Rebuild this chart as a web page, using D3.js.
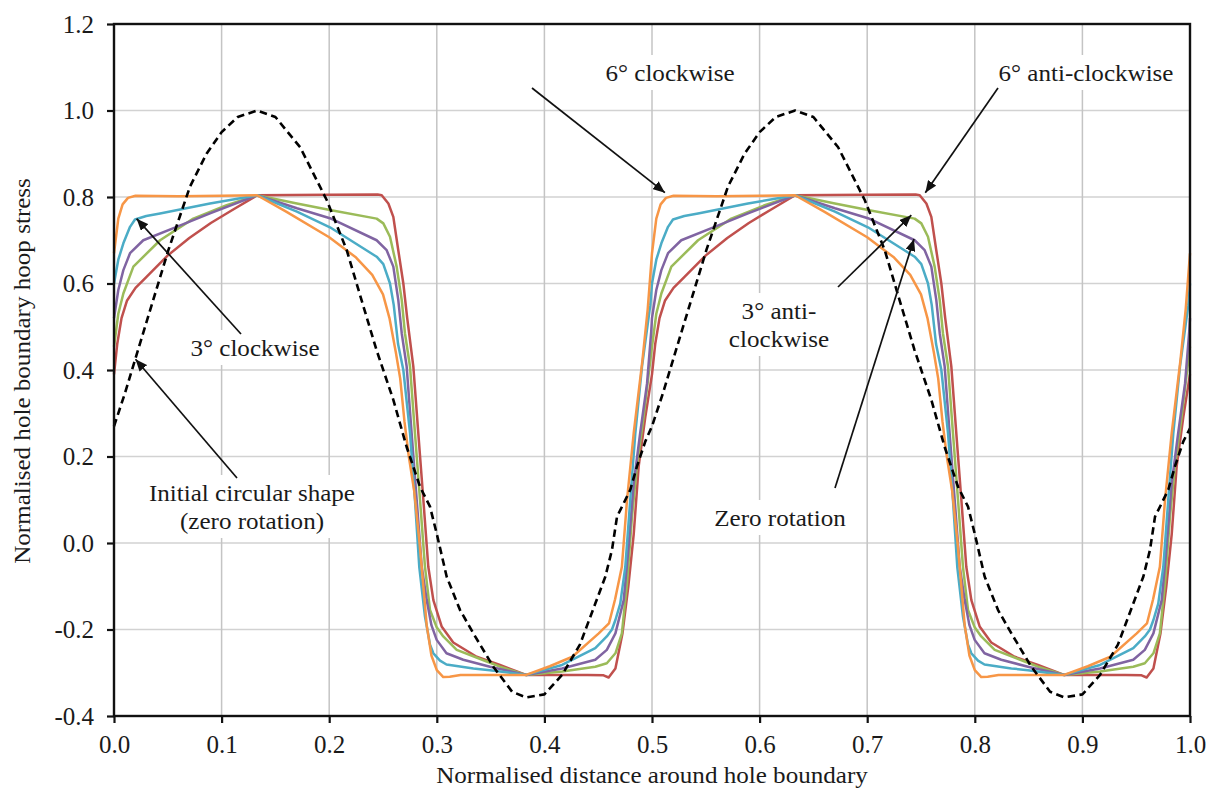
<!DOCTYPE html>
<html>
<head>
<meta charset="utf-8">
<script src="https://cdn.jsdelivr.net/npm/d3@7"></script>
<style>
  html, body { margin: 0; padding: 0; background: #ffffff; }
  svg { display: block; font-family: "Liberation Serif", "Times New Roman", serif; }
</style>
</head>
<body>
<svg id="chart" width="1214" height="794"></svg>
<script>
// ---- axis ticks ----
const xTicks = [0, 0.1, 0.2, 0.3, 0.4, 0.5, 0.6, 0.7, 0.8, 0.9, 1.0];
const xTickLabels = ["0.0", "0.1", "0.2", "0.3", "0.4", "0.5", "0.6", "0.7", "0.8", "0.9", "1.0"];
const yTicks = [-0.4, -0.2, 0, 0.2, 0.4, 0.6, 0.8, 1.0, 1.2];
const yTickLabels = ["-0.4", "-0.2", "0.0", "0.2", "0.4", "0.6", "0.8", "1.0", "1.2"];

// ---- hoop stress around the boundary: [normalised distance, normalised stress] ----
const sixDegClockwise = [
  [0,0.67],[0.004,0.75],[0.008,0.783],[0.013,0.798],[0.02,0.803],[0.06,0.802],[0.1,0.803],[0.133,0.804],
  [0.16,0.766],[0.2,0.707],[0.225,0.66],[0.24,0.62],[0.25,0.575],[0.256,0.52],[0.262,0.44],[0.266,0.38],
  [0.27,0.28],[0.274,0.2],[0.279,0.12],[0.284,0.0],[0.2875,-0.1],[0.2906,-0.19],[0.295,-0.26],[0.3,-0.294],
  [0.306,-0.31],[0.312,-0.309],[0.322,-0.305],[0.383,-0.305],[0.405,-0.285],[0.426,-0.263],[0.4505,-0.209],
  [0.46,-0.186],[0.4657,-0.13],[0.472,-0.055],[0.4768,0.1],[0.483,0.254],[0.491,0.42],[0.496,0.54],
  [0.5,0.67],[0.504,0.75],[0.508,0.783],[0.513,0.798],[0.52,0.803],[0.56,0.802],[0.6,0.803],[0.633,0.804],
  [0.66,0.766],[0.7,0.707],[0.725,0.66],[0.74,0.62],[0.75,0.575],[0.756,0.52],[0.762,0.44],[0.766,0.38],
  [0.77,0.28],[0.774,0.2],[0.779,0.12],[0.784,0.0],[0.7875,-0.1],[0.7906,-0.19],[0.795,-0.26],[0.8,-0.294],
  [0.806,-0.31],[0.812,-0.309],[0.822,-0.305],[0.883,-0.305],[0.905,-0.285],[0.926,-0.263],[0.9505,-0.209],
  [0.96,-0.186],[0.9657,-0.13],[0.972,-0.055],[0.9768,0.1],[0.983,0.254],[0.991,0.42],[0.996,0.54],[1.0,0.67]
];

const threeDegClockwise = [
  [0,0.6],[0.004,0.655],[0.0087,0.693],[0.0149,0.731],[0.0195,0.748],[0.03,0.756],[0.0428,0.762],[0.0892,0.785],[0.133,0.804],
  [0.17,0.766],[0.2007,0.73],[0.2441,0.662],[0.2503,0.645],[0.2565,0.6],[0.26,0.55],[0.264,0.46],[0.2689,0.4],
  [0.2751,0.254],[0.2797,0.1],[0.2837,-0.055],[0.289,-0.17],[0.2937,-0.235],[0.2968,-0.255],[0.303,-0.272],
  [0.309,-0.281],[0.334,-0.29],[0.3494,-0.294],[0.383,-0.305],[0.4164,-0.282],[0.4473,-0.243],[0.458,-0.216],
  [0.4628,-0.2],[0.466,-0.178],[0.4705,-0.14],[0.4752,-0.055],[0.4798,0.1],[0.4845,0.254],[0.4907,0.408],[0.4984,0.55],
  [0.5,0.6],[0.504,0.655],[0.5087,0.693],[0.5149,0.731],[0.5195,0.748],[0.53,0.756],[0.5428,0.762],[0.5892,0.785],[0.633,0.804],
  [0.67,0.766],[0.7007,0.73],[0.7441,0.662],[0.7503,0.645],[0.7565,0.6],[0.76,0.55],[0.764,0.46],[0.7689,0.4],
  [0.7751,0.254],[0.7797,0.1],[0.7837,-0.055],[0.789,-0.17],[0.7937,-0.235],[0.7968,-0.255],[0.803,-0.272],
  [0.809,-0.281],[0.834,-0.29],[0.8494,-0.294],[0.883,-0.305],[0.9164,-0.282],[0.9473,-0.243],[0.958,-0.216],
  [0.9628,-0.2],[0.966,-0.178],[0.9705,-0.14],[0.9752,-0.055],[0.9798,0.1],[0.9845,0.254],[0.9907,0.408],[0.9984,0.55],[1.0,0.6]
];

const zeroRotation = [
  [0,0.52],[0.004,0.585],[0.0087,0.631],[0.0149,0.67],[0.0272,0.7],[0.0582,0.731],[0.0892,0.762],[0.133,0.804],
  [0.17,0.774],[0.2007,0.751],[0.2441,0.7],[0.2534,0.677],[0.2596,0.639],[0.2642,0.562],[0.2674,0.485],[0.272,0.408],
  [0.2766,0.254],[0.2813,0.1],[0.286,-0.055],[0.2906,-0.132],[0.295,-0.19],[0.2999,-0.224],[0.309,-0.255],
  [0.3246,-0.27],[0.3494,-0.286],[0.383,-0.305],[0.4164,-0.29],[0.4473,-0.27],[0.458,-0.247],[0.466,-0.209],
  [0.4737,-0.132],[0.478,-0.016],[0.483,0.138],[0.489,0.254],[0.4954,0.369],[0.4993,0.49],
  [0.5,0.52],[0.504,0.585],[0.5087,0.631],[0.5149,0.67],[0.5272,0.7],[0.5582,0.731],[0.5892,0.762],[0.633,0.804],
  [0.67,0.774],[0.7007,0.751],[0.7441,0.7],[0.7534,0.677],[0.7596,0.639],[0.7642,0.562],[0.7674,0.485],[0.772,0.408],
  [0.7766,0.254],[0.7813,0.1],[0.786,-0.055],[0.7906,-0.132],[0.795,-0.19],[0.7999,-0.224],[0.809,-0.255],
  [0.8246,-0.27],[0.8494,-0.286],[0.883,-0.305],[0.9164,-0.29],[0.9473,-0.27],[0.958,-0.247],[0.966,-0.209],
  [0.9737,-0.132],[0.978,-0.016],[0.983,0.138],[0.989,0.254],[0.9954,0.369],[0.9993,0.49],[1.0,0.52]
];

const threeDegAntiClockwise = [
  [0,0.454],[0.004,0.53],[0.0087,0.577],[0.018,0.639],[0.0428,0.7],[0.0737,0.75],[0.1047,0.781],[0.133,0.804],
  [0.17,0.785],[0.2007,0.77],[0.2441,0.75],[0.2503,0.739],[0.2565,0.708],[0.2627,0.639],[0.2674,0.562],[0.2704,0.485],
  [0.2751,0.408],[0.2797,0.254],[0.2844,0.1],[0.289,-0.055],[0.2937,-0.155],[0.2999,-0.195],[0.306,-0.216],
  [0.3185,-0.247],[0.3464,-0.274],[0.3587,-0.286],[0.383,-0.305],[0.4164,-0.297],[0.4473,-0.286],[0.458,-0.278],
  [0.466,-0.255],[0.472,-0.209],[0.4768,-0.093],[0.4814,0.061],[0.486,0.177],[0.4922,0.292],[0.4993,0.44],
  [0.5,0.454],[0.504,0.53],[0.5087,0.577],[0.518,0.639],[0.5428,0.7],[0.5737,0.75],[0.6047,0.781],[0.633,0.804],
  [0.67,0.785],[0.7007,0.77],[0.7441,0.75],[0.7503,0.739],[0.7565,0.708],[0.7627,0.639],[0.7674,0.562],[0.7704,0.485],
  [0.7751,0.408],[0.7797,0.254],[0.7844,0.1],[0.789,-0.055],[0.7937,-0.155],[0.7999,-0.195],[0.806,-0.216],
  [0.8185,-0.247],[0.8464,-0.274],[0.8587,-0.286],[0.883,-0.305],[0.9164,-0.297],[0.9473,-0.286],[0.958,-0.278],
  [0.966,-0.255],[0.972,-0.209],[0.9768,-0.093],[0.9814,0.061],[0.986,0.177],[0.9922,0.292],[0.9993,0.44],[1.0,0.454]
];

const sixDegAntiClockwise = [
  [0,0.39],[0.003,0.46],[0.007,0.52],[0.012,0.56],[0.02,0.59],[0.03,0.615],[0.05,0.665],[0.07,0.705],[0.09,0.74],
  [0.11,0.77],[0.133,0.804],[0.2,0.805],[0.245,0.806],[0.2488,0.804],[0.255,0.785],[0.2596,0.754],[0.2642,0.677],
  [0.2689,0.6],[0.2725,0.52],[0.2782,0.408],[0.2828,0.254],[0.2875,0.1],[0.2921,-0.055],[0.2968,-0.132],
  [0.3045,-0.193],[0.3153,-0.23],[0.337,-0.263],[0.3587,-0.282],[0.383,-0.305],[0.44,-0.305],[0.455,-0.306],
  [0.4597,-0.311],[0.466,-0.29],[0.4725,-0.21],[0.478,-0.1],[0.483,0.02],[0.4876,0.177],[0.4938,0.292],
  [0.5,0.39],[0.503,0.46],[0.507,0.52],[0.512,0.56],[0.52,0.59],[0.53,0.615],[0.55,0.665],[0.57,0.705],[0.59,0.74],
  [0.61,0.77],[0.633,0.804],[0.7,0.805],[0.745,0.806],[0.7488,0.804],[0.755,0.785],[0.7596,0.754],[0.7642,0.677],
  [0.7689,0.6],[0.7725,0.52],[0.7782,0.408],[0.7828,0.254],[0.7875,0.1],[0.7921,-0.055],[0.7968,-0.132],
  [0.8045,-0.193],[0.8153,-0.23],[0.837,-0.263],[0.8587,-0.282],[0.883,-0.305],[0.94,-0.305],[0.955,-0.306],
  [0.9597,-0.311],[0.966,-0.29],[0.9725,-0.21],[0.978,-0.1],[0.983,0.02],[0.9876,0.177],[0.9938,0.292],[1.0,0.39]
];

const initialCircular = [
  [0,0.27],[0.01,0.345],[0.0195,0.423],[0.035,0.55],[0.0505,0.677],[0.0706,0.824],[0.086,0.9],[0.1,0.95],
  [0.115,0.985],[0.133,1.0],[0.15,0.985],[0.173,0.915],[0.1977,0.793],[0.2163,0.677],[0.23,0.562],[0.244,0.446],
  [0.2596,0.331],[0.272,0.222],[0.2844,0.13],[0.2937,0.084],[0.2999,0.022],[0.3092,-0.078],[0.3216,-0.155],
  [0.334,-0.209],[0.3525,-0.286],[0.37,-0.344],[0.383,-0.357],[0.4,-0.35],[0.4164,-0.305],[0.433,-0.235],
  [0.4473,-0.14],[0.4566,-0.078],[0.4628,-0.016],[0.4675,0.061],[0.4737,0.092],[0.4798,0.123],[0.486,0.177],[0.4938,0.235],
  [0.5,0.27],[0.51,0.345],[0.5195,0.423],[0.535,0.55],[0.5505,0.677],[0.5706,0.824],[0.586,0.9],[0.6,0.95],
  [0.615,0.985],[0.633,1.0],[0.65,0.985],[0.673,0.915],[0.6977,0.793],[0.7163,0.677],[0.73,0.562],[0.744,0.446],
  [0.7596,0.331],[0.772,0.222],[0.7844,0.13],[0.7937,0.084],[0.7999,0.022],[0.8092,-0.078],[0.8216,-0.155],
  [0.834,-0.209],[0.8525,-0.286],[0.87,-0.344],[0.883,-0.357],[0.9,-0.35],[0.9164,-0.305],[0.933,-0.235],
  [0.9473,-0.14],[0.9566,-0.078],[0.9628,-0.016],[0.9675,0.061],[0.9737,0.092],[0.9798,0.123],[0.986,0.177],[0.9938,0.235],[1.0,0.265]
];

const seriesList = [
  { name: "6° anti-clockwise", values: sixDegAntiClockwise, color: "#C0504D" },
  { name: "3° anti-clockwise", values: threeDegAntiClockwise, color: "#9BBB59" },
  { name: "Zero rotation", values: zeroRotation, color: "#8064A2" },
  { name: "3° clockwise", values: threeDegClockwise, color: "#4BACC6" },
  { name: "6° clockwise", values: sixDegClockwise, color: "#F79646" }
];

// ---- layout ----
const svg = d3.select("#chart");
const plot = { left: 114, right: 1190, top: 24, bottom: 716 };
const x = d3.scaleLinear().domain([0, 1]).range([plot.left, plot.right]);
const y = d3.scaleLinear().domain([-0.4, 1.2]).range([plot.bottom, plot.top]);
const fontSize = 23;
const stretch = 1.09;
const ink = "#1a1a1a";

// gridlines
const grid = svg.append("g");
grid.selectAll("line.h").data(yTicks.filter(v => v > -0.4 && v < 1.2)).join("line")
  .attr("x1", plot.left).attr("x2", plot.right)
  .attr("y1", d => y(d)).attr("y2", d => y(d))
  .attr("stroke", "#d2d2d2").attr("stroke-width", 1.6);
grid.selectAll("line.v").data(xTicks.filter(v => v > 0 && v < 1)).join("line")
  .attr("y1", plot.top).attr("y2", plot.bottom)
  .attr("x1", d => x(d)).attr("x2", d => x(d))
  .attr("stroke", "#c4c4c4").attr("stroke-width", 1.5);

// label backgrounds sit above the grid but under the curves
const labelBg = svg.append("g");

// curves
const line = d3.line().x(d => x(d[0])).y(d => y(d[1]));
const curves = svg.append("g").attr("fill", "none").attr("stroke-linejoin", "round");
curves.selectAll("path").data(seriesList).join("path")
  .attr("d", d => line(d.values))
  .attr("stroke", d => d.color)
  .attr("stroke-width", 2.5);
curves.append("path")
  .attr("d", line(initialCircular))
  .attr("stroke", "#000")
  .attr("stroke-width", 2.6)
  .attr("stroke-dasharray", "7.5,4.5");

// frame
svg.append("rect")
  .attr("x", plot.left).attr("y", plot.top)
  .attr("width", plot.right - plot.left).attr("height", plot.bottom - plot.top)
  .attr("fill", "none").attr("stroke", "#111").attr("stroke-width", 2.4);

// axes
const yAxis = svg.append("g").attr("transform", `translate(${plot.left},0)`)
  .call(d3.axisLeft(y).tickValues(yTicks).tickFormat((d, i) => yTickLabels[i]).tickSize(7).tickPadding(13));
const xAxis = svg.append("g").attr("transform", `translate(0,${plot.bottom})`)
  .call(d3.axisBottom(x).tickValues(xTicks).tickFormat((d, i) => xTickLabels[i]).tickSize(7).tickPadding(12));
[yAxis, xAxis].forEach(a => {
  a.select(".domain").remove();
  a.selectAll(".tick line").attr("stroke", "#111").attr("stroke-width", 2.2);
  a.selectAll(".tick text").attr("font-family", "Liberation Serif, serif")
    .attr("font-size", 25).attr("fill", ink);
});

// centred text with slightly widened glyphs
function centredText(parent, str, cx, baseline, size) {
  const t = parent.append("text").attr("x", 0).attr("y", baseline)
    .attr("font-size", size).attr("fill", ink).text(str);
  const w = t.node().getComputedTextLength() * stretch;
  t.attr("x", cx - w / 2).attr("textLength", w).attr("lengthAdjust", "spacingAndGlyphs");
  return t;
}

// axis titles
centredText(svg, "Normalised distance around hole boundary", 652, 783, fontSize);
const yTitle = svg.append("g").attr("transform", "translate(30,371) rotate(-90)");
centredText(yTitle, "Normalised hole boundary hoop stress", 0, 0, fontSize);

// annotations
const annotations = [
  { lines: ["6° clockwise"], cx: 670, baseline: 81, from: [532, 88], to: [0.512, 0.81] },
  { lines: ["6° anti-clockwise"], cx: 1086, baseline: 81, from: [998, 88], to: [0.754, 0.81] },
  { lines: ["3° clockwise"], cx: 255, baseline: 356, from: [241, 334], to: [0.021, 0.75] },
  { lines: ["Initial circular shape", "(zero rotation)"], cx: 252, baseline: 501, from: [237, 478], to: [0.02, 0.425] },
  { lines: ["3° anti-", "clockwise"], cx: 779, baseline: 319, from: [838, 287], to: [0.741, 0.758] },
  { lines: ["Zero rotation"], cx: 780, baseline: 526, from: [835, 488], to: [0.7435, 0.703] }
];
const lineGap = 28;

svg.append("defs").append("marker")
  .attr("id", "arrowHead")
  .attr("viewBox", "0 0 12 10")
  .attr("refX", 12).attr("refY", 5)
  .attr("markerWidth", 12).attr("markerHeight", 10)
  .attr("markerUnits", "userSpaceOnUse")
  .attr("orient", "auto")
  .append("path").attr("d", "M0,0 L12,5 L0,10 Z").attr("fill", "#111");

const annLayer = svg.append("g");
annotations.forEach(a => {
  const g = annLayer.append("g");
  a.lines.forEach((s, i) => centredText(g, s, a.cx, a.baseline + i * lineGap, fontSize));
  const bb = g.node().getBBox();
  labelBg.append("rect")
    .attr("x", bb.x - 4).attr("y", bb.y - 6)
    .attr("width", bb.width + 8).attr("height", bb.height + 10)
    .attr("fill", "#fff");
  annLayer.append("line")
    .attr("x1", a.from[0]).attr("y1", a.from[1])
    .attr("x2", x(a.to[0])).attr("y2", y(a.to[1]))
    .attr("stroke", "#111").attr("stroke-width", 1.7)
    .attr("marker-end", "url(#arrowHead)");
});
</script>
</body>
</html>
